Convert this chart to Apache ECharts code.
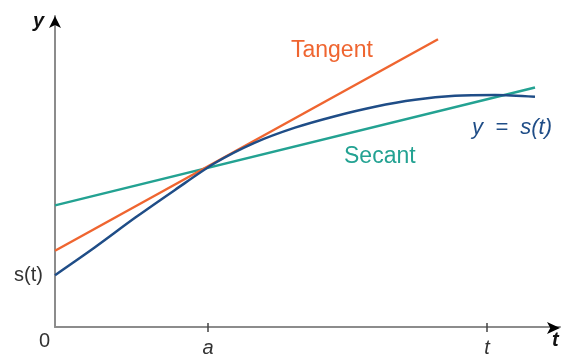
<!DOCTYPE html>
<html>
<head>
<meta charset="utf-8">
<script src="https://cdn.jsdelivr.net/npm/echarts@6/dist/echarts.min.js"></script>
<style>
html,body{margin:0;padding:0;background:#fff;}
#chart{width:563px;height:358px;}
</style>
</head>
<body>
<div id="chart"></div>
<script>
// Data (t in arbitrary units, y in arbitrary units)
const curveT = [0, 4, 8, 12, 16, 20, 24, 28, 32, 36, 40, 44, 48];
const curveY = [5.2, 8.0, 10.95, 13.75, 16.45, 18.5, 20.0, 21.15, 22.1, 22.8, 23.2, 23.28, 23.1];
const tangentT = [0, 38.3];
const tangentY = [7.65, 28.87];
const secantT = [0, 48];
const secantY = [12.2, 24.03];
const tickValues = [15.3, 43.2];
const tickLabels = ['a', 't'];
const sValue = 5.2;

const zip = (xs, ys) => xs.map((x, i) => [x, ys[i]]);

const ORANGE = '#ef6530';
const NAVY = '#1f4d87';
const TEAL = '#23a292';
const AXIS = '#8c8c8c';
const TEXT = '#333333';
const FONT = '"Liberation Sans", Arial, sans-serif';

const XMAX = 50.5, YMAX = 31.2;
const gridBox = {left: 55, right: 3, top: 16, bottom: 30};

const chart = echarts.init(document.getElementById('chart'), null, {renderer: 'canvas'});
chart.setOption({
  animation: false,
  backgroundColor: '#fff',
  grid: [Object.assign({}, gridBox), Object.assign({}, gridBox)],
  xAxis: [
    {
      type: 'value', gridIndex: 0, min: 0, max: XMAX,
      splitLine: {show: false},
      axisLine: {show: true, onZero: false, lineStyle: {color: AXIS, width: 2}},
      axisTick: {show: true, customValues: tickValues, length: 5, lineStyle: {color: '#444', width: 1.5}},
      axisLabel: {
        show: true, customValues: tickValues, margin: 11,
        formatter: v => tickLabels[tickValues.indexOf(v)] || '',
        fontFamily: FONT, fontSize: 20, fontStyle: 'italic', color: TEXT
      }
    },
    {
      type: 'value', gridIndex: 1, min: 0, max: XMAX,
      splitLine: {show: false},
      axisLine: {show: true, onZero: false, symbol: ['none', 'arrow'], symbolSize: [9, 13],
        lineStyle: {color: '#000', width: 0.01}},
      axisTick: {show: true, customValues: tickValues, inside: true, length: 5, lineStyle: {color: '#444', width: 1.5}},
      axisLabel: {show: false}
    }
  ],
  yAxis: [
    {
      type: 'value', gridIndex: 0, min: 0, max: YMAX,
      splitLine: {show: false},
      axisLine: {show: true, onZero: false, lineStyle: {color: AXIS, width: 2}},
      axisTick: {show: false},
      axisLabel: {
        show: true, customValues: [sValue], margin: 12,
        formatter: () => 's(t)', padding: [12, 0, 0, 0],
        fontFamily: FONT, fontSize: 20, color: TEXT
      }
    },
    {
      type: 'value', gridIndex: 1, min: 0, max: YMAX, position: 'left',
      splitLine: {show: false},
      axisLine: {show: true, onZero: false, symbol: ['none', 'arrow'], symbolSize: [9, 12],
        lineStyle: {color: '#000', width: 0.01}},
      axisTick: {show: false},
      axisLabel: {show: false}
    }
  ],
  series: [
    {
      type: 'line', xAxisIndex: 0, yAxisIndex: 0, data: zip(secantT, secantY),
      showSymbol: false, lineStyle: {color: TEAL, width: 2.5}, z: 3
    },
    {
      type: 'line', xAxisIndex: 0, yAxisIndex: 0, data: zip(tangentT, tangentY),
      showSymbol: false, lineStyle: {color: ORANGE, width: 2.5}, z: 3
    },
    {
      type: 'line', xAxisIndex: 0, yAxisIndex: 0, data: zip(curveT, curveY),
      smooth: 0.3,
      showSymbol: false, lineStyle: {color: NAVY, width: 2.5}, z: 4
    }
  ],
  graphic: [
    {type: 'text', left: 33, top: 11, style: {text: 'y', font: 'italic bold 20px ' + FONT, fill: '#111'}},
    {type: 'text', left: 552, top: 330, style: {text: 't', font: 'italic bold 20px ' + FONT, fill: '#111'}},
    {type: 'text', left: 39, top: 331, style: {text: '0', font: '20px ' + FONT, fill: TEXT}},
    {type: 'text', left: 291, top: 39, style: {text: 'Tangent', font: '23px ' + FONT, fill: ORANGE}},
    {type: 'text', left: 344, top: 145, style: {text: 'Secant', font: '23px ' + FONT, fill: TEAL}},
    {type: 'text', left: 472, top: 117, style: {text: 'y  =  s(t)', font: 'italic 22px ' + FONT, fill: NAVY}}
  ]
});
</script>
</body>
</html>
